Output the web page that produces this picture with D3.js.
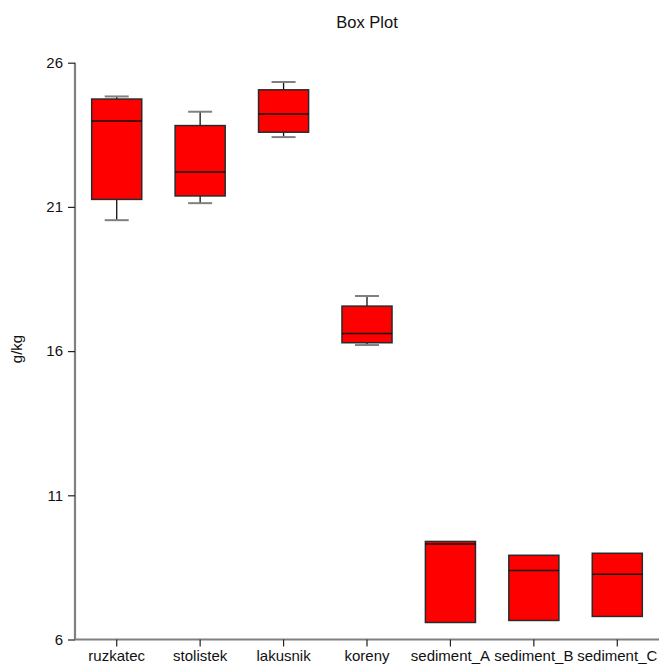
<!DOCTYPE html>
<html>
<head>
<meta charset="utf-8">
<script src="https://cdn.jsdelivr.net/npm/d3@7"></script>
<style>
  html, body { margin: 0; padding: 0; background: #fff; }
  svg { display: block; font-family: "Liberation Sans", Arial, sans-serif; }
</style>
</head>
<body>
<svg id="chart" width="660" height="666"></svg>
<script>
// Sample groups and their five-number summaries (g/kg)
const categories = ["ruzkatec", "stolistek", "lakusnik", "koreny", "sediment_A", "sediment_B", "sediment_C"];
const whiskerLow  = [20.54, 21.13, 23.42, 16.21, null, null, null];
const q1          = [21.26, 21.38, 23.59, 16.29, 6.59, 6.66, 6.80];
const median      = [23.98, 22.21, 24.22, 16.61, 9.31, 8.39, 8.26];
const q3          = [24.74, 23.82, 25.06, 17.56, 9.40, 8.92, 8.99];
const whiskerHigh = [24.83, 24.30, 25.33, 17.91, null, null, null];
const yTicks = [6, 11, 16, 21, 26];

const rows = categories.map((c, i) => ({
  name: c, lo: whiskerLow[i], q1: q1[i], med: median[i], q3: q3[i], hi: whiskerHigh[i]
}));

const svg = d3.select("#chart");
const plotLeft = 75, plotRight = 659, plotTop = 62.7, plotBottom = 639.5;

const x = d3.scaleBand().domain(categories).range([plotLeft, plotRight]).paddingInner(0.4).paddingOuter(0.2);
const y = d3.scaleLinear().domain([6, 26]).range([plotBottom, plotTop]);

// Title
svg.append("text").attr("x", (plotLeft + plotRight) / 2).attr("y", 28)
  .attr("text-anchor", "middle").attr("font-size", 16.5).attr("fill", "#111").text("Box Plot");

// Y axis title
svg.append("text").attr("transform", "translate(22,349) rotate(-90)")
  .attr("text-anchor", "middle").attr("font-size", 15).attr("fill", "#111").text("g/kg");

// Boxes
const g = svg.append("g");
rows.forEach(d => {
  const cx = x(d.name) + x.bandwidth() / 2;
  const cap = x.bandwidth() * 0.48;
  if (d.hi != null) {
    g.append("line").attr("x1", cx).attr("x2", cx).attr("y1", y(d.q3)).attr("y2", y(d.hi))
      .attr("stroke", "#111").attr("stroke-width", 1.3);
    g.append("line").attr("x1", cx - cap / 2).attr("x2", cx + cap / 2).attr("y1", y(d.hi)).attr("y2", y(d.hi))
      .attr("stroke", "#808080").attr("stroke-width", 2);
  }
  if (d.lo != null) {
    g.append("line").attr("x1", cx).attr("x2", cx).attr("y1", y(d.q1)).attr("y2", y(d.lo))
      .attr("stroke", "#111").attr("stroke-width", 1.3);
    g.append("line").attr("x1", cx - cap / 2).attr("x2", cx + cap / 2).attr("y1", y(d.lo)).attr("y2", y(d.lo))
      .attr("stroke", "#808080").attr("stroke-width", 2);
  }
  g.append("rect").attr("x", x(d.name)).attr("width", x.bandwidth())
    .attr("y", y(d.q3)).attr("height", y(d.q1) - y(d.q3))
    .attr("fill", "#ff0000").attr("stroke", "#2a2a2a").attr("stroke-width", 1.5);
  g.append("line").attr("x1", x(d.name)).attr("x2", x(d.name) + x.bandwidth())
    .attr("y1", y(d.med)).attr("y2", y(d.med))
    .attr("stroke", "#111").attr("stroke-width", 1.5);
});

// Axes
const yAxis = svg.append("g").attr("transform", `translate(${plotLeft},0)`)
  .call(d3.axisLeft(y).tickValues(yTicks).tickSize(7).tickSizeOuter(0).tickPadding(5));
const xAxis = svg.append("g").attr("transform", `translate(0,${plotBottom})`)
  .call(d3.axisBottom(x).tickSize(7).tickSizeOuter(0).tickPadding(4));

[yAxis, xAxis].forEach(a => {
  a.select(".domain").attr("stroke", "#808080").attr("stroke-width", 2.2);
  a.selectAll(".tick line").attr("stroke", "#222").attr("stroke-width", 1.2);
  a.selectAll(".tick text").attr("font-size", 15).attr("fill", "#111")
    .attr("font-family", "'Liberation Sans', Arial, sans-serif");
});
xAxis.select(".domain").attr("d", `M${plotLeft},0H${plotRight}`);
yAxis.select(".domain").attr("d", `M0,${plotTop}V${plotBottom}`);
</script>
</body>
</html>
